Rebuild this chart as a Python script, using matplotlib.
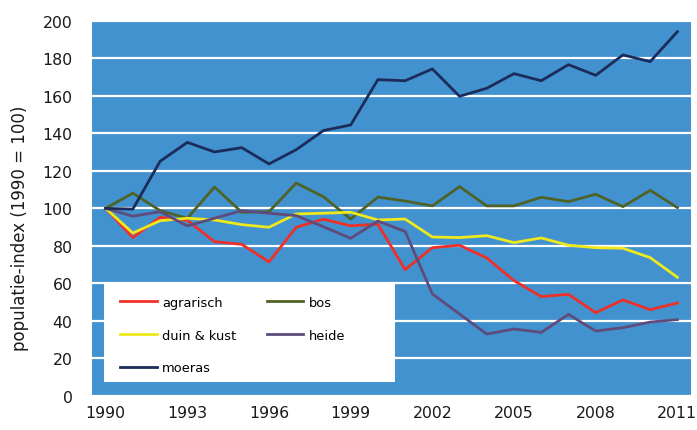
import matplotlib
matplotlib.use("Agg")
import matplotlib.pyplot as plt
from matplotlib.patches import Rectangle

plt.rcParams['font.family'] = ['DejaVu Sans']

years = list(range(1990, 2012))
agrarisch = [100, 84.4, 95.2, 93.6, 82.2, 80.8, 71.4, 89.9, 94.2, 90.7, 91.5,
             67.3, 79.0, 80.3, 73.5, 61.4, 52.9, 54.1, 44.3, 51.1, 45.9, 49.5]
bos = [100, 108.1, 98.8, 94.7, 111.4, 97.9, 98.2, 113.5, 106.2, 94.3, 106.0,
       103.9, 101.3, 111.6, 101.3, 101.3, 105.9, 103.6, 107.5, 100.9, 109.6, 100.4]
duin_kust = [100, 86.8, 93.4, 94.7, 93.8, 91.3, 89.9, 97.0, 97.4, 97.9, 93.8,
             94.3, 84.7, 84.4, 85.4, 81.7, 84.2, 80.3, 79.0, 78.7, 73.7, 63.2]
heide = [100, 95.8, 98.2, 90.6, 94.7, 98.8, 97.4, 96.1, 90.2, 84.0, 93.2,
         87.7, 54.3, 43.6, 32.9, 35.6, 33.8, 43.4, 34.5, 36.3, 39.3, 40.6]
moeras = [100, 99.6, 125.1, 135.2, 130.1, 132.4, 123.7, 131.3, 141.5, 144.5, 168.7,
          168.1, 174.4, 159.8, 164.1, 171.9, 168.1, 176.7, 171.0, 181.9, 178.3, 194.3]

xticks = [1990, 1993, 1996, 1999, 2002, 2005, 2008, 2011]
yticks = [0, 20, 40, 60, 80, 100, 120, 140, 160, 180, 200]

fig = plt.figure(figsize=(6.97, 4.31), dpi=100)
ax = fig.add_axes([0.132, 0.0796, 0.8594, 0.8694])
ax.set_facecolor('#4192CE')
for s in ax.spines.values():
    s.set_visible(False)

ax.set_xlim(1989.5, 2011.5)
ax.set_ylim(0, 200)
ax.set_yticks(yticks)
ax.set_xticks(xticks)
ax.tick_params(axis='both', length=0, labelsize=11.3, colors='#1a1a1a')
ax.tick_params(axis='y', pad=14)
ax.tick_params(axis='x', pad=7)
ax.yaxis.grid(True, color='white', linewidth=1.6)
ax.xaxis.grid(False)
ax.set_axisbelow(True)

lw = 2.0
l_agr, = ax.plot(years, agrarisch, color='#EE3029', lw=lw, label='agrarisch')
l_bos, = ax.plot(years, bos, color='#4F6228', lw=lw, label='bos')
l_duin, = ax.plot(years, duin_kust, color='#EEE81C', lw=lw, label='duin & kust')
l_hei, = ax.plot(years, heide, color='#5F4B7C', lw=lw, label='heide')
l_moe, = ax.plot(years, moeras, color='#1C2C5A', lw=lw, label='moeras')

ax.set_ylabel('populatie-index (1990 = 100)', fontsize=12, color='#1a1a1a')
ax.yaxis.set_label_coords(-0.105, 0.45)

# white legend panel
ax.add_patch(Rectangle((0.02, 0.0374), 0.486, 0.2634, transform=ax.transAxes,
                       facecolor='white', edgecolor='none', zorder=3))

handles = [l_agr, l_duin, l_moe, l_bos, l_hei]
leg = ax.legend(handles, [h.get_label() for h in handles], ncol=2,
                loc='upper left', bbox_to_anchor=(0.0467, 0.266),
                fontsize=9.4, frameon=False,
                borderpad=0, labelspacing=1.5, handlelength=2.8,
                handletextpad=0.4, columnspacing=2.35, borderaxespad=0)
leg.set_zorder(4)

fig.savefig('out.png', dpi=100)
